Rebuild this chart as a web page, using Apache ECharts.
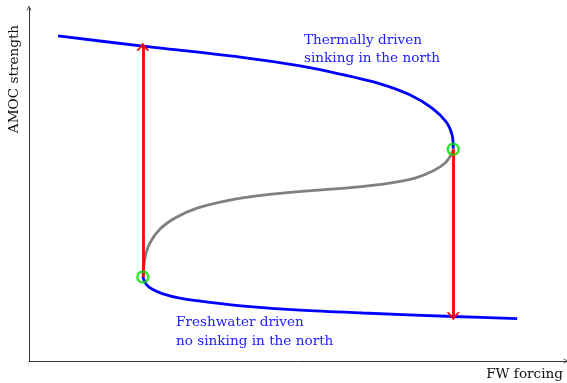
<!DOCTYPE html>
<html>
<head>
    <meta charset="utf-8">
    <title>AMOC hysteresis</title>
    <script src="https://cdn.jsdelivr.net/npm/echarts@6/dist/echarts.min.js"></script>
    <style>
        html, body { margin: 0; padding: 0; background: #fff; }
    </style>
</head>
<body>
    <div id="main" style="width: 567px;height:383px;"></div>
    <script type="text/javascript">
        // branches of the curve (x = FW forcing, y = AMOC strength, 0..10)
        var upperX = [0.54, 2.12, 3.93, 5.05, 5.79, 6.54, 7.09, 7.50, 7.77, 7.88, 7.90];
        var upperY = [9.21, 8.92, 8.61, 8.36, 8.13, 7.85, 7.54, 7.17, 6.77, 6.40, 6.01];

        var middleX = [2.12, 2.16, 2.25, 2.44, 2.72, 3.13, 3.74, 4.36, 5.05, 5.98, 6.72, 7.19, 7.52, 7.75, 7.86, 7.90];
        var middleY = [2.38, 2.92, 3.34, 3.74, 4.05, 4.33, 4.56, 4.70, 4.80, 4.91, 5.04, 5.18, 5.38, 5.61, 5.84, 5.98];

        var lowerX = [2.12, 2.18, 2.29, 2.48, 2.81, 3.37, 4.12, 5.05, 6.22, 7.90, 9.09];
        var lowerY = [2.38, 2.18, 2.04, 1.91, 1.78, 1.66, 1.54, 1.44, 1.36, 1.26, 1.20];

        // tipping points and the jumps that start there
        var tipX = [2.12, 7.90];
        var tipY = [2.38, 6.00];
        var jumpEndY = [8.90, 1.27];

        function zip(xs, ys) {
            return xs.map(function (x, i) { return [x, ys[i]]; });
        }

        var chevron = 'path://M0,10 L5,0 L10,10 L8.3,10 L5,3.6 L1.7,10 Z';
        var serif = '"DejaVu Serif", serif';
        var textBlue = '#2020ff';
        var fontSize = 13.6;

        var myChart = echarts.init(document.getElementById('main'));

        var option = {
            animation: false,
            backgroundColor: '#fff',
            grid: { left: 29, right: 1, top: 8, bottom: 22 },
            xAxis: {
                type: 'value', min: 0, max: 10,
                axisLine: { show: true, symbol: ['none', chevron], symbolSize: [7, 5],
                    lineStyle: { color: '#333', width: 1 } },
                axisTick: { show: false }, axisLabel: { show: false }, splitLine: { show: false }
            },
            yAxis: {
                type: 'value', min: 0, max: 10,
                axisLine: { show: true, symbol: ['none', chevron], symbolSize: [7, 5],
                    lineStyle: { color: '#333', width: 1 } },
                axisTick: { show: false }, axisLabel: { show: false }, splitLine: { show: false }
            },
            series: [
                {
                    type: 'line', data: zip(middleX, middleY), smooth: 0.3,
                    showSymbol: false, lineStyle: { color: '#808080', width: 2.8 }, z: 2
                },
                {
                    type: 'line', data: zip(upperX, upperY), smooth: 0.3,
                    showSymbol: false, lineStyle: { color: '#0000ff', width: 2.8 }, z: 3
                },
                {
                    type: 'line', data: zip(lowerX, lowerY), smooth: 0.3,
                    showSymbol: false, lineStyle: { color: '#0000ff', width: 2.8 }, z: 3,
                    markLine: {
                        silent: true,
                        symbol: ['none', chevron],
                        symbolSize: [13, 8],
                        label: { show: false },
                        lineStyle: { color: '#ff0000', width: 2.8, type: 'solid' },
                        data: tipX.map(function (x, i) {
                            return [{ coord: [x, tipY[i]] }, { coord: [x, jumpEndY[i]] }];
                        })
                    }
                },
                {
                    type: 'scatter', data: zip(tipX, tipY), z: 5,
                    symbol: 'circle', symbolSize: 11,
                    itemStyle: { color: 'rgba(0,0,0,0)', borderColor: '#00e000', borderWidth: 2.5 }
                }
            ],
            graphic: [
                { type: 'text', x: 304, y: 40, style: { text: 'Thermally driven', font: fontSize + 'px ' + serif, fill: textBlue, verticalAlign: 'middle' } },
                { type: 'text', x: 304, y: 58.5, style: { text: 'sinking in the north', font: fontSize + 'px ' + serif, fill: textBlue, verticalAlign: 'middle' } },
                { type: 'text', x: 176, y: 322, style: { text: 'Freshwater driven', font: fontSize + 'px ' + serif, fill: textBlue, verticalAlign: 'middle' } },
                { type: 'text', x: 176, y: 341, style: { text: 'no sinking in the north', font: fontSize + 'px ' + serif, fill: textBlue, verticalAlign: 'middle' } },
                { type: 'text', x: 563, y: 374, style: { text: 'FW forcing', font: fontSize + 'px ' + serif, fill: '#111', align: 'right', verticalAlign: 'middle' } },
                { type: 'text', x: 14, y: 79, rotation: Math.PI / 2, style: { text: 'AMOC strength', font: fontSize + 'px ' + serif, fill: '#111', align: 'center', verticalAlign: 'middle' } }
            ]
        };

        myChart.setOption(option);
    </script>
</body>
</html>
